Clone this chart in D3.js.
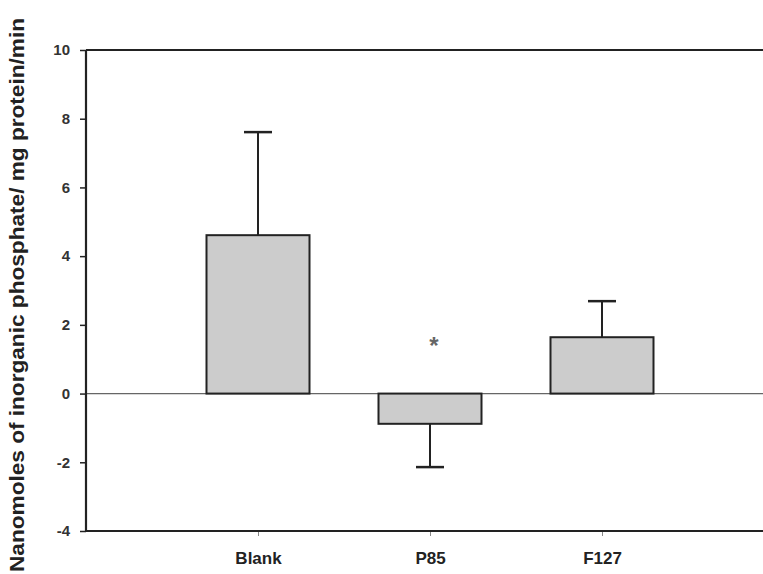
<!DOCTYPE html>
<html>
<head>
<meta charset="utf-8">
<script src="https://cdn.jsdelivr.net/npm/d3@7"></script>
<style>
  body { margin: 0; background: #fff; }
  svg { display: block; }
</style>
</head>
<body>
<div id="chart"></div>
<script>
// values
const categories = ['Blank', 'P85', 'F127'];
const means = [4.61, -0.88, 1.64];
const errors = [3.0, 1.26, 1.05];
const significant = [false, true, false];
const yTicks = [-4, -2, 0, 2, 4, 6, 8, 10];
const yLabel = 'Nanomoles of inorganic phosphate/ mg protein/min';

const width = 763;
const height = 574;
const font = 'Liberation Sans, Arial, sans-serif';

const svg = d3.select('#chart')
  .append('svg')
  .attr('width', width)
  .attr('height', height);

// plot runs off the right edge of the window like in the original
const x = d3.scaleLinear().domain([0, 4]).range([86, 774]);
const y = d3.scaleLinear().domain([-4, 10]).range([531, 50]);
const barW = 103;

const data = categories.map((c, i) => ({
  name: c, pos: i + 1, mean: means[i], err: errors[i], sig: significant[i]
}));

// top frame line
svg.append('line')
  .attr('x1', x(0)).attr('x2', width)
  .attr('y1', y(10)).attr('y2', y(10))
  .attr('stroke', '#222').attr('stroke-width', 2);

// zero line
svg.append('line')
  .attr('x1', x(0)).attr('x2', width)
  .attr('y1', y(0)).attr('y2', y(0))
  .attr('stroke', '#666').attr('stroke-width', 1.3);

// error bars (drawn before bars so stem starts at bar edge)
const err = svg.append('g')
  .attr('stroke', '#222')
  .attr('stroke-width', 2);

data.forEach((d) => {
  const end = d.mean >= 0 ? d.mean + d.err : d.mean - d.err;
  err.append('line')
    .attr('x1', x(d.pos)).attr('x2', x(d.pos))
    .attr('y1', y(d.mean)).attr('y2', y(end));
  err.append('line')
    .attr('x1', x(d.pos) - 14).attr('x2', x(d.pos) + 14)
    .attr('y1', y(end)).attr('y2', y(end))
    .attr('stroke-width', 2.5);
});

// bars
svg.append('g')
  .selectAll('rect')
  .data(data)
  .enter()
  .append('rect')
  .attr('x', (d) => x(d.pos) - barW / 2)
  .attr('width', barW)
  .attr('y', (d) => y(Math.max(0, d.mean)))
  .attr('height', (d) => Math.abs(y(d.mean) - y(0)))
  .attr('fill', '#cccccc')
  .attr('stroke', '#222')
  .attr('stroke-width', 2);

// significance asterisk
svg.append('g')
  .selectAll('text')
  .data(data.filter((d) => d.sig))
  .enter()
  .append('text')
  .attr('x', (d) => x(d.pos) + 4)
  .attr('y', y(1.15))
  .attr('text-anchor', 'middle')
  .attr('font-family', font)
  .attr('font-size', 24)
  .attr('font-weight', 'bold')
  .attr('fill', '#666')
  .text('*');

// x axis
const xAxis = svg.append('g')
  .attr('transform', `translate(0, ${y(-4)})`)
  .call(d3.axisBottom(x)
    .tickValues(data.map((d) => d.pos))
    .tickFormat((v) => categories[v - 1])
    .tickSize(5)
    .tickPadding(16));
xAxis.select('.domain').remove();
xAxis.append('line')
  .attr('x1', x(0)).attr('x2', width)
  .attr('stroke', '#222').attr('stroke-width', 2.2);
xAxis.selectAll('.tick line').attr('stroke', '#888');
xAxis.selectAll('text')
  .attr('font-family', font)
  .attr('font-size', 17)
  .attr('font-weight', 'bold')
  .attr('fill', '#222');

// y axis - plain hyphen for negatives, as in the original
const yAxis = svg.append('g')
  .attr('transform', `translate(${x(0)}, 0)`)
  .call(d3.axisLeft(y)
    .tickValues(yTicks)
    .tickFormat((v) => String(v))
    .tickSize(6)
    .tickPadding(10));
yAxis.select('.domain')
  .attr('d', `M0,${y(-4)}V${y(10)}`)
  .attr('stroke', '#222')
  .attr('stroke-width', 2.2);
yAxis.selectAll('.tick line').attr('stroke', '#222').attr('stroke-width', 1.5);
yAxis.selectAll('text')
  .attr('font-family', font)
  .attr('font-size', 15)
  .attr('font-weight', 'bold')
  .attr('fill', '#333');

// y axis title
svg.append('text')
  .attr('transform', 'translate(24, 295) rotate(-90)')
  .attr('text-anchor', 'middle')
  .attr('font-family', font)
  .attr('font-size', 20)
  .attr('font-weight', 'bold')
  .attr('fill', '#222')
  .attr('textLength', 554)
  .attr('lengthAdjust', 'spacingAndGlyphs')
  .text(yLabel);
</script>
</body>
</html>
